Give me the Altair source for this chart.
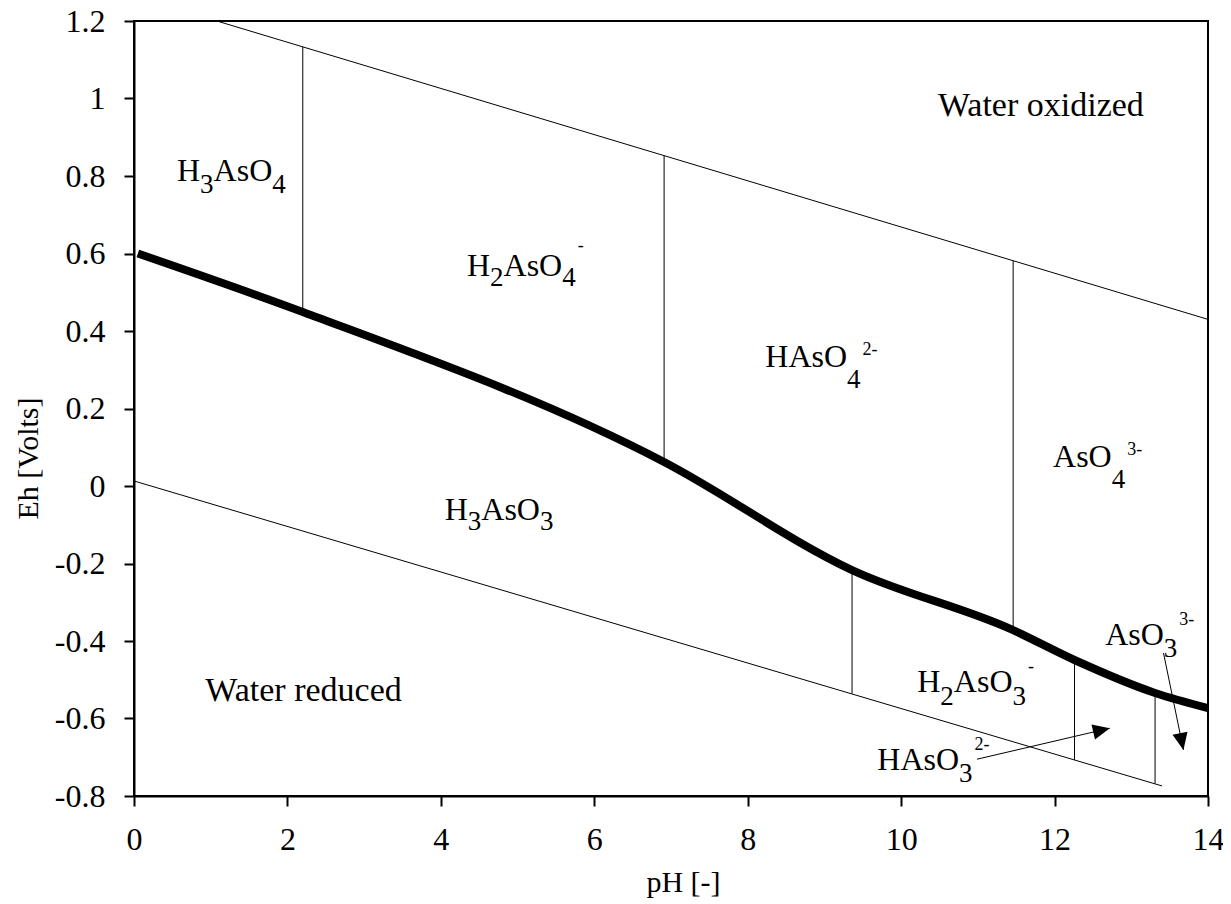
import math
import altair as alt
import pandas as pd

# ---------------- data ----------------
X_TICKS = [0, 2, 4, 6, 8, 10, 12, 14]
Y_TICKS = [-0.8, -0.6, -0.4, -0.2, 0.0, 0.2, 0.4, 0.6, 0.8, 1.0, 1.2]

# thick As(V)/As(III) boundary
boundary_ph = [0.05, 2.20, 6.91, 9.36, 11.46, 12.26, 13.31, 14.0]
boundary_eh = [0.600, 0.449, 0.062, -0.217, -0.372, -0.449, -0.534, -0.573]

# water stability lines
upper_ph = [1.08, 14.0]
upper_eh = [1.200, 0.430]
lower_ph = [0.0, 13.40]
lower_eh = [0.013, -0.774]

# vertical species boundaries
vert_ph = [2.20, 6.91, 11.46, 9.36, 12.26, 13.31]
vert_eh_top = [1.133, 0.853, 0.581, -0.217, -0.449, -0.534]
vert_eh_bot = [0.449, 0.062, -0.372, -0.536, -0.707, -0.768]

# arrows (start -> tip)
arrow_ph_start = [10.99, 13.42]
arrow_eh_start = [-0.705, -0.431]
arrow_ph_end = [12.72, 13.68]
arrow_eh_end = [-0.625, -0.681]

# labels: parts (text, kind) with n = normal, sub = subscript, sup = superscript
label_parts = [
    [("H", "n"), ("3", "sub"), ("AsO", "n"), ("4", "sub")],
    [("H", "n"), ("2", "sub"), ("AsO", "n"), ("4", "sub"), ("-", "sup")],
    [("HAsO", "n"), ("4", "sub"), ("2-", "sup")],
    [("AsO", "n"), ("4", "sub"), ("3-", "sup")],
    [("H", "n"), ("3", "sub"), ("AsO", "n"), ("3", "sub")],
    [("H", "n"), ("2", "sub"), ("AsO", "n"), ("3", "sub"), ("-", "sup")],
    [("HAsO", "n"), ("3", "sub"), ("2-", "sup")],
    [("AsO", "n"), ("3", "sub"), ("3-", "sup")],
    [("Water oxidized", "big")],
    [("Water reduced", "big")],
]
label_ph = [0.56, 4.34, 8.23, 11.98, 4.05, 10.21, 9.69, 12.66, 10.48, 0.93]
label_eh = [0.787, 0.542, 0.307, 0.049, -0.088, -0.532, -0.733, -0.410, 0.955, -0.555]

# ---------------- style / layout ----------------
FONT = "Liberation Serif"
PLOT_W, PLOT_H = 1074, 775
PX_PER_PH = PLOT_W / 14.0
PX_PER_V = PLOT_H / 2.0
FS = {"n": 32, "sub": 27, "sup": 18, "big": 34}
SUB_DROP = [12, 10, 21, 21, 10, 13, 12, 12, 0, 0]
SUP_RISE = [0, 25, 12, 12, 0, 20, 20, 20, 0, 0]
SUP_GAP = 2
ADV = {"H": 0.722, "A": 0.722, "s": 0.389, "O": 0.722, "2": 0.5, "3": 0.5,
       "4": 0.5, "-": 0.333}

rows = []
for parts, ph0, eh0, drop, rise in zip(label_parts, label_ph, label_eh, SUB_DROP, SUP_RISE):
    cursor = 0.0
    for txt, kind in parts:
        fs = FS[kind]
        if kind == "sup":
            cursor += SUP_GAP
        off = {"n": 0, "big": 0, "sub": drop, "sup": -rise}[kind]
        rows.append({"ph": ph0 + cursor / PX_PER_PH, "eh": eh0 - off / PX_PER_V,
                     "txt": txt, "fs": fs})
        cursor += sum(ADV.get(c, 0.5) for c in txt) * fs
text_df = pd.DataFrame(rows)

seg_rows = []
seg_rows.append({"ph": upper_ph[0], "eh": upper_eh[0], "ph2": upper_ph[1], "eh2": upper_eh[1]})
seg_rows.append({"ph": lower_ph[0], "eh": lower_eh[0], "ph2": lower_ph[1], "eh2": lower_eh[1]})
for p, t, b in zip(vert_ph, vert_eh_top, vert_eh_bot):
    seg_rows.append({"ph": p, "eh": t, "ph2": p, "eh2": b})
for a, b, c, d in zip(arrow_ph_start, arrow_eh_start, arrow_ph_end, arrow_eh_end):
    seg_rows.append({"ph": a, "eh": b, "ph2": c, "eh2": d})
seg_df = pd.DataFrame(seg_rows)

curve_df = pd.DataFrame({"ph": boundary_ph, "eh": boundary_eh})

head_rows = []
for a, b, c, d in zip(arrow_ph_start, arrow_eh_start, arrow_ph_end, arrow_eh_end):
    dx = (c - a) * PX_PER_PH
    dy = -(d - b) * PX_PER_V
    ang = math.degrees(math.atan2(dx, -dy)) % 360
    head_rows.append({"ph": c, "eh": d, "angle": ang})
head_df = pd.DataFrame(head_rows)

xs = alt.Scale(domain=[0, 14], nice=False, zero=False)
ys = alt.Scale(domain=[-0.8, 1.2], nice=False, zero=False)

x_axis = alt.Axis(values=X_TICKS, title="pH [-]", titleX=549, titleY=86,
                  titleBaseline="middle", labelPadding=18, labelFlush=False)
y_axis = alt.Axis(values=Y_TICKS, title="Eh [Volts]", titleX=-106, titleY=437,
                  titleBaseline="middle", labelPadding=19, labelFlush=False,
                  labelExpr="(datum.value < -0.001 ? '-' : '') + format(abs(datum.value), '.1~f')")

X = alt.X("ph:Q", scale=xs, axis=x_axis)
Y = alt.Y("eh:Q", scale=ys, axis=y_axis)

segs = alt.Chart(seg_df).mark_rule(color="black", strokeWidth=1).encode(
    x=X, y=Y, x2="ph2:Q", y2="eh2:Q")

curve = alt.Chart(curve_df).mark_line(color="black", strokeWidth=8,
                                      interpolate="monotone", strokeCap="butt").encode(x=X, y=Y)

ARROW = "M0,0L-0.45,1L0.45,1Z"
heads = alt.Chart(head_df).mark_point(shape=ARROW, filled=True, color="black",
                                      size=1156, opacity=1, strokeWidth=0).encode(
    x=X, y=Y, angle=alt.Angle("angle:Q", scale=None))

texts = alt.Chart(text_df).mark_text(font=FONT, align="left", baseline="alphabetic",
                                     color="black").encode(
    x=X, y=Y, text="txt:N", size=alt.Size("fs:Q", scale=None))

chart = alt.layer(segs, curve, heads, texts).properties(
    width=PLOT_W, height=PLOT_H,
    autosize=alt.AutoSizeParams(type="none"),
    padding={"left": 126, "top": 13, "right": 15, "bottom": 106},
    background="white",
).configure_view(stroke="black", strokeWidth=2).configure_axis(
    labelFont=FONT, labelFontSize=32, labelColor="black",
    titleFont=FONT, titleFontSize=30, titleFontWeight="normal", titleColor="black",
    domainColor="black", domainWidth=2, tickColor="black", tickWidth=2, tickSize=10,
    grid=False,
)

chart.save("out.html", embed_options={"renderer": "svg", "actions": False})
